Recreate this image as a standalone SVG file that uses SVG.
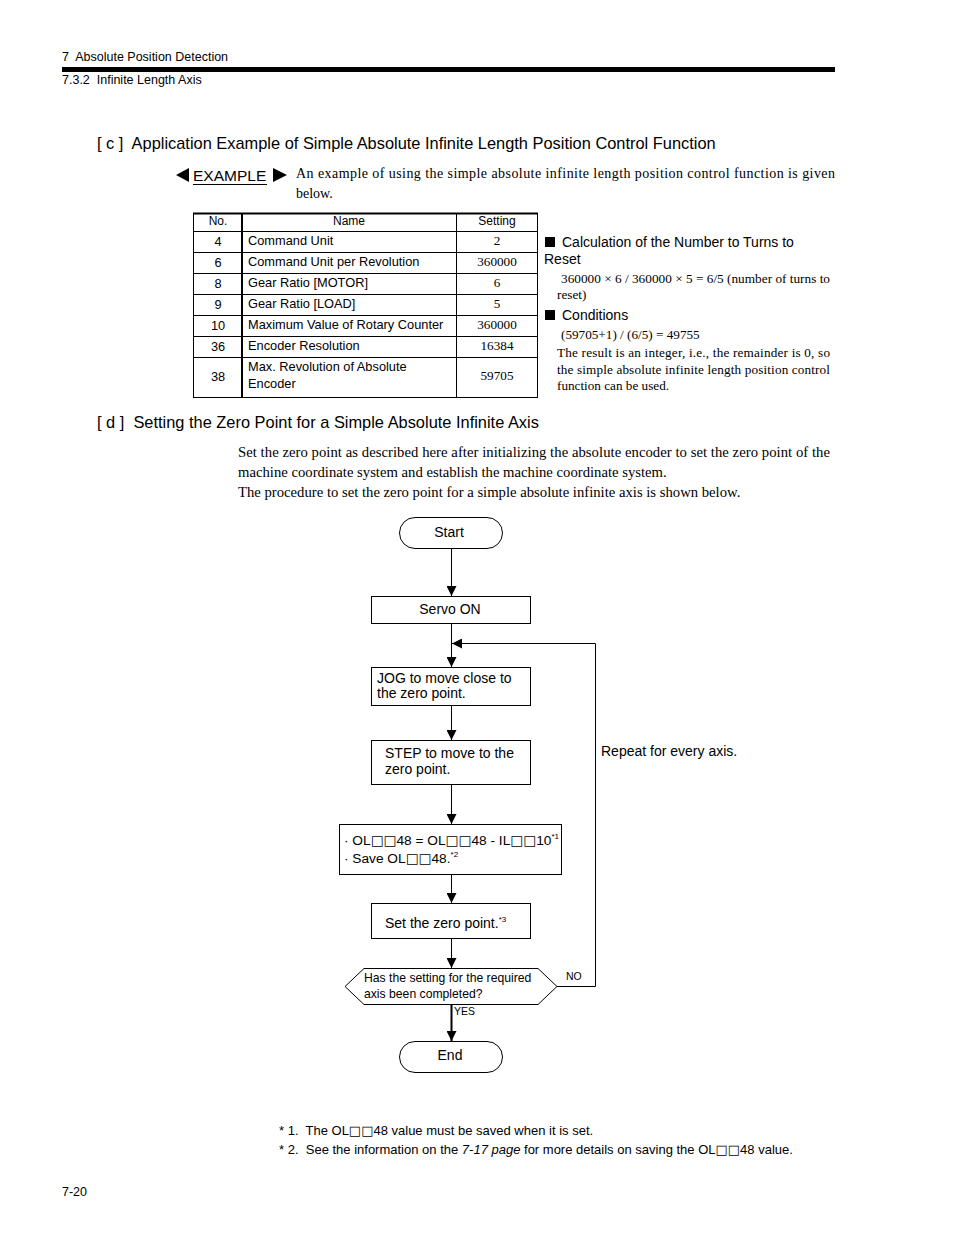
<svg xmlns="http://www.w3.org/2000/svg" width="954" height="1235" viewBox="0 0 954 1235">
<style>
text{white-space:pre}
.s{font-family:"Liberation Sans","DejaVu Sans",Arial,sans-serif;fill:#000}
.r{font-family:"Liberation Serif","DejaVu Serif","Times New Roman",serif;fill:#000}
.q{font-family:"DejaVu Sans",sans-serif}
.box{fill:#fff;stroke:#000;stroke-width:1}
.ln{stroke:#000;stroke-width:1;fill:none}
.tl{stroke:#000;stroke-width:1}
</style>
<defs>
<marker id="ah" viewBox="0 0 10 10" refX="10" refY="5" markerWidth="10" markerHeight="10" markerUnits="userSpaceOnUse" orient="auto"><path d="M0,0 L10,5 L0,10 z" fill="#000"/></marker>
</defs>
<rect width="954" height="1235" fill="#fff"/>

<!-- header -->
<text class="s" x="62" y="61" font-size="12.5">7  Absolute Position Detection</text>
<rect x="62" y="67" width="773" height="5" fill="#000"/>
<text class="s" x="62" y="84" font-size="12.5">7.3.2  Infinite Length Axis</text>

<!-- [c] -->
<text class="s" x="97" y="149" font-size="16.4">[ c ]  Application Example of Simple Absolute Infinite Length Position Control Function</text>
<polygon points="176,175 189,168 189,182" fill="#000"/>
<text class="s" x="193" y="181" font-size="15.5">EXAMPLE</text>
<line x1="193" y1="184.5" x2="267" y2="184.5" class="tl"/>
<polygon points="273,168 287,175 273,182" fill="#000"/>
<text class="r" x="296" y="178" font-size="14" textLength="539" lengthAdjust="spacing">An example of using the simple absolute infinite length position control function is given</text>
<text class="r" x="296" y="198" font-size="14">below.</text>

<!-- table -->
<g id="table">
<rect x="193.5" y="213.5" width="344" height="184" fill="none" stroke="#000"/>
<line x1="193" y1="213.5" x2="538" y2="213.5" stroke="#000" stroke-width="2"/>
<line x1="242" y1="213" x2="242" y2="397" stroke="#000" stroke-width="2"/>
<line x1="456.5" y1="213" x2="456.5" y2="397" class="tl"/>
<g class="tl">
<line x1="193" y1="231.5" x2="537" y2="231.5"/>
<line x1="193" y1="252.5" x2="537" y2="252.5"/>
<line x1="193" y1="273.5" x2="537" y2="273.5"/>
<line x1="193" y1="294.5" x2="537" y2="294.5"/>
<line x1="193" y1="315.5" x2="537" y2="315.5"/>
<line x1="193" y1="336.5" x2="537" y2="336.5"/>
<line x1="193" y1="357.5" x2="537" y2="357.5"/>
</g>
<g class="s" font-size="12.8" text-anchor="middle">
<text x="218" y="225" font-size="12">No.</text>
<text x="349" y="225" font-size="12">Name</text>
<text x="497" y="225" font-size="12">Setting</text>
<text x="218" y="246">4</text>
<text x="218" y="267">6</text>
<text x="218" y="288">8</text>
<text x="218" y="309">9</text>
<text x="218" y="330">10</text>
<text x="218" y="351">36</text>
<text x="218" y="381">38</text>
</g>
<g class="s" font-size="12.8">
<text x="248" y="245">Command Unit</text>
<text x="248" y="266">Command Unit per Revolution</text>
<text x="248" y="287">Gear Ratio [MOTOR]</text>
<text x="248" y="308">Gear Ratio [LOAD]</text>
<text x="248" y="329">Maximum Value of Rotary Counter</text>
<text x="248" y="350">Encoder Resolution</text>
<text x="248" y="371">Max. Revolution of Absolute</text>
<text x="248" y="388">Encoder</text>
</g>
<g class="r" font-size="13.2" text-anchor="middle">
<text x="497" y="245">2</text>
<text x="497" y="266">360000</text>
<text x="497" y="287">6</text>
<text x="497" y="308">5</text>
<text x="497" y="329">360000</text>
<text x="497" y="350">16384</text>
<text x="497" y="380">59705</text>
</g>
</g>

<!-- right notes -->
<g id="notes">
<rect x="545" y="237" width="10" height="10" fill="#000"/>
<text class="s" x="562" y="247" font-size="14">Calculation of the Number to Turns to</text>
<text class="s" x="544" y="264" font-size="14">Reset</text>
<text class="r" x="561" y="283" font-size="13.2" textLength="269" lengthAdjust="spacingAndGlyphs">360000 × 6 / 360000 × 5 = 6/5 (number of turns to</text>
<text class="r" x="557" y="299" font-size="13.2">reset)</text>
<rect x="545" y="310" width="10" height="10" fill="#000"/>
<text class="s" x="562" y="320" font-size="14">Conditions</text>
<text class="r" x="561" y="339" font-size="13.2">(59705+1) / (6/5) = 49755</text>
<text class="r" x="557" y="357" font-size="13.2" textLength="273" lengthAdjust="spacing">The result is an integer, i.e., the remainder is 0, so</text>
<text class="r" x="557" y="374" font-size="13.2" textLength="273" lengthAdjust="spacing">the simple absolute infinite length position control</text>
<text class="r" x="557" y="390" font-size="13.2">function can be used.</text>
</g>

<!-- [d] -->
<text class="s" x="97" y="428" font-size="16.4">[ d ]  Setting the Zero Point for a Simple Absolute Infinite Axis</text>
<text class="r" x="238" y="457" font-size="14.7" textLength="592" lengthAdjust="spacing">Set the zero point as described here after initializing the absolute encoder to set the zero point of the</text>
<text class="r" x="238" y="477" font-size="14.7">machine coordinate system and establish the machine coordinate system.</text>
<text class="r" x="238" y="497" font-size="14.7">The procedure to set the zero point for a simple absolute infinite axis is shown below.</text>

<!-- connectors -->
<g id="connectors">
<line x1="451.5" y1="549" x2="451.5" y2="596" class="ln" marker-end="url(#ah)"/>
<line x1="451.5" y1="624" x2="451.5" y2="667" class="ln" marker-end="url(#ah)"/>
<line x1="451.5" y1="706" x2="451.5" y2="740" class="ln" marker-end="url(#ah)"/>
<line x1="451.5" y1="785" x2="451.5" y2="824" class="ln" marker-end="url(#ah)"/>
<line x1="451.5" y1="875" x2="451.5" y2="903" class="ln" marker-end="url(#ah)"/>
<line x1="451.5" y1="939" x2="451.5" y2="968" class="ln" marker-end="url(#ah)"/>
<line x1="451.5" y1="1004" x2="451.5" y2="1041" stroke="#000" stroke-width="2" marker-end="url(#ah)"/>
<polyline points="557,986.5 595.5,986.5 595.5,643.5 452,643.5" class="ln" marker-end="url(#ah)"/>
<text class="s" x="566" y="980" font-size="10.5">NO</text>
<text class="s" x="454" y="1015" font-size="10.5">YES</text>
<text class="s" x="601" y="756" font-size="14">Repeat for every axis.</text>
</g>

<!-- nodes -->
<g id="start">
<rect x="399.5" y="517.5" width="103" height="31" rx="15.5" class="box"/>
<text class="s" x="449" y="537" font-size="14" text-anchor="middle">Start</text>
</g>
<g id="servo">
<rect x="371.5" y="596.5" width="159" height="27" class="box"/>
<text class="s" x="450" y="614" font-size="14" text-anchor="middle">Servo ON</text>
</g>
<g id="jog">
<rect x="371.5" y="667.5" width="159" height="38" class="box"/>
<text class="s" x="377" y="683" font-size="14">JOG to move close to</text>
<text class="s" x="377" y="698" font-size="14">the zero point.</text>
</g>
<g id="step">
<rect x="371.5" y="740.5" width="159" height="44" class="box"/>
<text class="s" x="385" y="758" font-size="14">STEP to move to the</text>
<text class="s" x="385" y="774" font-size="14">zero point.</text>
</g>
<g id="calc">
<rect x="339.5" y="824.5" width="222" height="50" class="box"/>
<text class="s" x="344" y="845" font-size="13.7">· OL<tspan class="q">□□</tspan>48 = OL<tspan class="q">□□</tspan>48 - IL<tspan class="q">□□</tspan>10<tspan font-size="8" dy="-6">*1</tspan></text>
<text class="s" x="344" y="863" font-size="13.7">· Save OL<tspan class="q">□□</tspan>48.<tspan font-size="8" dy="-6">*2</tspan></text>
</g>
<g id="setzero">
<rect x="371.5" y="903.5" width="159" height="35" class="box"/>
<text class="s" x="385" y="928" font-size="14">Set the zero point.<tspan font-size="8" dy="-6">*3</tspan></text>
</g>
<g id="decision">
<polygon points="345,986.5 364,968.5 538,968.5 557,986.5 538,1004.5 364,1004.5" class="box"/>
<text class="s" x="364" y="982" font-size="12.2">Has the setting for the required</text>
<text class="s" x="364" y="998" font-size="12.2">axis been completed?</text>
</g>
<g id="end">
<rect x="399.5" y="1041.5" width="103" height="31" rx="15.5" class="box"/>
<text class="s" x="450" y="1060" font-size="14" text-anchor="middle">End</text>
</g>

<!-- footnotes -->
<text class="s" x="279" y="1135" font-size="13">* 1.  The OL<tspan class="q">□□</tspan>48 value must be saved when it is set.</text>
<text class="s" x="279" y="1154" font-size="13">* 2.  See the information on the <tspan font-style="italic">7-17 page</tspan> for more details on saving the OL<tspan class="q">□□</tspan>48 value.</text>
<text class="s" x="62" y="1196" font-size="12.5">7-20</text>
</svg>
